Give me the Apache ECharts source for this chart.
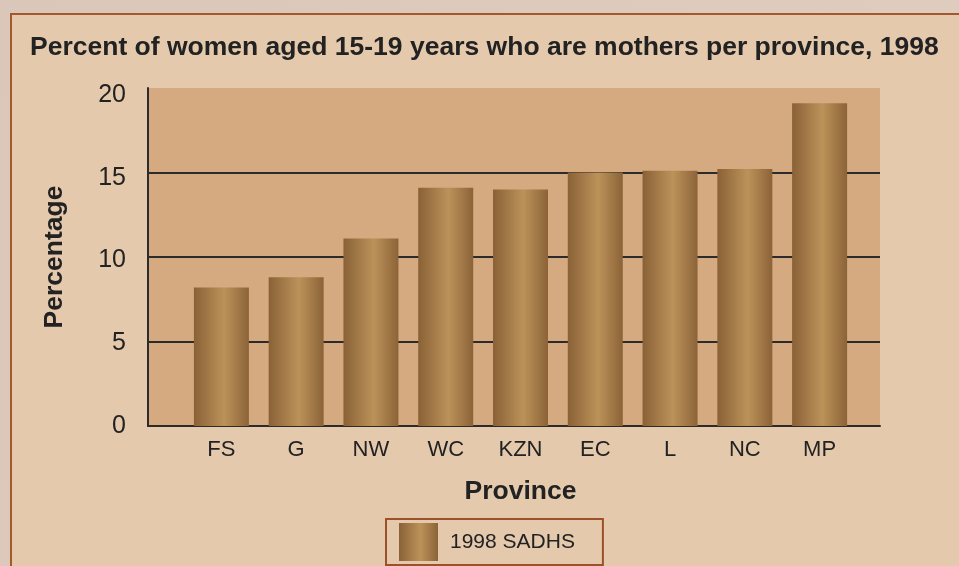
<!DOCTYPE html>
<html>
<head>
<meta charset="utf-8">
<script src="https://cdn.jsdelivr.net/npm/echarts@6/dist/echarts.min.js"></script>
<style>
  html, body { margin: 0; padding: 0; }
  #chart { width: 959px; height: 566px; }
</style>
</head>
<body>
<div id="chart"></div>
<script>
// data
var provinces = ['FS', 'G', 'NW', 'WC', 'KZN', 'EC', 'L', 'NC', 'MP'];
var mothers1998 = [8.2, 8.8, 11.1, 14.1, 14.0, 15.0, 15.1, 15.2, 19.1];
var seriesName = '1998 SADHS';

var txt = '#222222';
var barFill = new echarts.graphic.LinearGradient(0, 0, 1, 0, [
  { offset: 0, color: '#8a6136' },
  { offset: 0.55, color: '#bc925a' },
  { offset: 1, color: '#8c6337' }
]);

var chart = echarts.init(document.getElementById('chart'));
chart.setOption({
  animation: false,
  backgroundColor: new echarts.graphic.LinearGradient(0, 0, 1, 1, [
    { offset: 0, color: '#dbc7ba' },
    { offset: 1, color: '#e0cec1' }
  ]),
  graphic: [{
    type: 'rect',
    z: -10,
    shape: { x: 11, y: 14, width: 960, height: 560 },
    style: { fill: '#e4c9ad', stroke: '#a3592b', lineWidth: 2 }
  }],
  title: {
    text: 'Percent of women aged 15-19 years who are mothers per province, 1998',
    left: 30,
    top: 34,
    padding: 0,
    textStyle: { fontFamily: 'Liberation Sans', fontSize: 26.5, fontWeight: 'bold', color: txt }
  },
  legend: {
    left: 386,
    top: 519,
    padding: [4, 28, 4, 13],
    itemWidth: 39,
    itemHeight: 38,
    borderColor: '#9c5129',
    borderWidth: 2,
    icon: 'rect',
    textStyle: { fontFamily: 'Liberation Sans', fontSize: 21, color: txt, padding: [0, 0, 0, 7] },
    data: [seriesName]
  },
  grid: [
    // background grid with gridlines
    { left: 148, right: 79, top: 88, bottom: 140, show: true, backgroundColor: '#d5aa80', borderWidth: 0 },
    // bars sit a bit inside the plot area
    { left: 184, right: 102, top: 88, bottom: 140 },
    // tick labels in the original sit on a slightly shorter scale
    { left: 148, right: 79, top: 95, bottom: 140 }
  ],
  xAxis: [{
    gridIndex: 0,
    type: 'value',
    min: 0, max: 1,
    axisLine: { show: true, onZero: false, lineStyle: { color: '#2b2b2b', width: 2 } },
    axisTick: { show: false },
    axisLabel: { show: false },
    splitLine: { show: false }
  }, {
    gridIndex: 1,
    type: 'category',
    data: provinces,
    axisLine: { show: false },
    axisTick: { show: false },
    axisLabel: { margin: 13, fontFamily: 'Liberation Sans', fontSize: 22, color: txt },
    name: 'Province',
    nameLocation: 'middle',
    nameGap: 52,
    nameTextStyle: { fontFamily: 'Liberation Sans', fontSize: 26.5, fontWeight: 'bold', color: txt }
  }, {
    gridIndex: 2,
    type: 'value',
    show: false
  }],
  yAxis: [{
    gridIndex: 0,
    type: 'value',
    min: 0, max: 20, interval: 5,
    axisLine: { show: true, lineStyle: { color: '#2b2b2b', width: 2 } },
    axisTick: { show: false },
    axisLabel: { show: false },
    splitLine: { show: true, showMaxLine: false, lineStyle: { color: '#2b2b2b', width: 2 } },
    name: 'Percentage',
    nameLocation: 'middle',
    nameGap: 80,
    nameTextStyle: { fontFamily: 'Liberation Sans', fontSize: 26.5, fontWeight: 'bold', color: txt }
  }, {
    gridIndex: 1,
    type: 'value',
    min: 0, max: 20, interval: 5,
    show: false
  }, {
    gridIndex: 2,
    type: 'value',
    min: 0, max: 20, interval: 5,
    axisLine: { show: false },
    axisTick: { show: false },
    splitLine: { show: false },
    axisLabel: { margin: 22, fontFamily: 'Liberation Sans', fontSize: 25, color: txt }
  }],
  series: [{
    name: seriesName,
    type: 'bar',
    xAxisIndex: 1,
    yAxisIndex: 1,
    barWidth: 55,
    itemStyle: { color: barFill },
    data: mothers1998
  }]
});
</script>
</body>
</html>
